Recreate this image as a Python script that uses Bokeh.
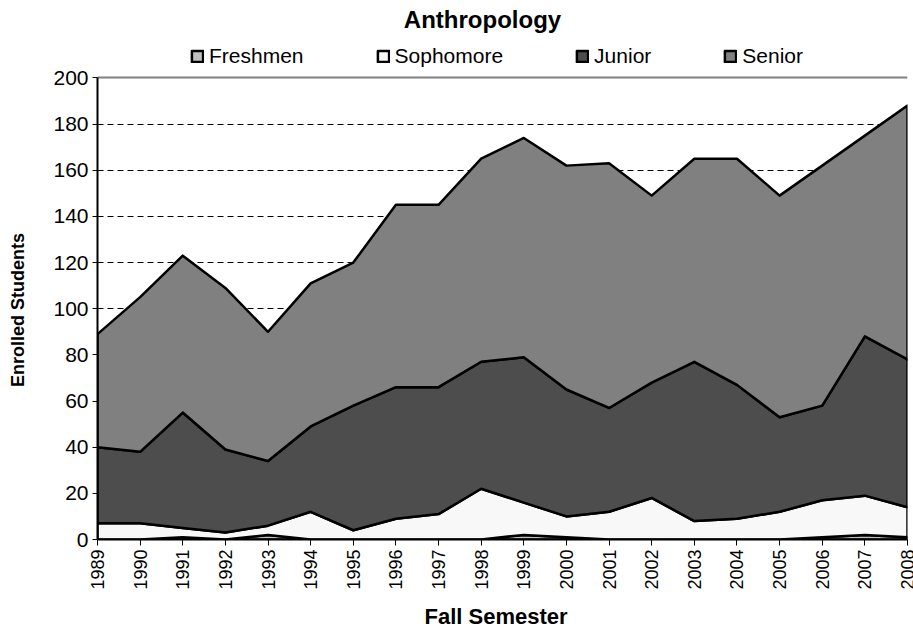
import numpy as np
from bokeh.plotting import figure
from bokeh.models import Range1d, FixedTicker, Legend, LegendItem, Title, Grid, Label
from bokeh.embed import file_html
from bokeh.resources import INLINE

years = list(range(1989, 2009))
freshmen = [0, 0, 1, 0, 2, 0, 0, 0, 0, 0, 2, 1, 0, 0, 0, 0, 0, 1, 2, 1]
sophomore = [7, 7, 4, 3, 4, 12, 4, 9, 11, 22, 14, 9, 12, 18, 8, 9, 12, 16, 17, 13]
junior = [33, 31, 50, 36, 28, 37, 54, 57, 55, 55, 63, 55, 45, 50, 69, 58, 41, 41, 69, 64]
senior = [49, 67, 68, 70, 56, 62, 62, 79, 79, 88, 95, 97, 106, 81, 88, 98, 96, 104, 87, 110]
series_names = ["Freshmen", "Sophomore", "Junior", "Senior"]
series_values = [freshmen, sophomore, junior, senior]
colors = ["#C0C0C0", "#F8F8F8", "#4D4D4D", "#808080"]
y_ticks = list(range(0, 201, 20))

FONT = "Liberation Sans"
W, H = 913, 637

# layout (screen px): plot area 97..907 x 78..543; the frame reaches the top for title + legend
FRAME_TOP, AREA_TOP, AREA_BOTTOM, AREA_LEFT, AREA_RIGHT = 0, 78, 543, 97, 907
y_end = y_ticks[-1] * (AREA_BOTTOM - FRAME_TOP) / (AREA_BOTTOM - AREA_TOP)

p = figure(width=W, height=H, output_backend="svg", toolbar_location=None, title=None,
           x_range=Range1d(years[0], years[-1]), y_range=Range1d(y_ticks[0], y_end),
           min_border_left=AREA_LEFT, min_border_right=W - AREA_RIGHT,
           min_border_top=FRAME_TOP, min_border_bottom=H - AREA_BOTTOM)
p.background_fill_color = "white"
p.border_fill_color = "white"
p.outline_line_color = None

# title (inside the extended frame, above the plot area)
title = Label(x=(years[0] + years[-1]) / 2, y=y_ticks[-1], x_offset=-20, y_offset=AREA_TOP - 20,
              text="Anthropology", text_font=FONT, text_font_size="24px",
              text_font_style="bold", text_color="black",
              text_align="center", text_baseline="middle")
p.add_layout(title)

# grid and plot-area border (top and right, gray)
p.xgrid.visible = False
p.ygrid.ticker = FixedTicker(ticks=y_ticks[1:-1])
p.ygrid.grid_line_color = "black"
p.ygrid.grid_line_dash = "6 4"
p.ygrid.grid_line_width = 1
top_border = Grid(dimension=1, ticker=FixedTicker(ticks=[y_ticks[-1]]),
                  grid_line_color="#808080", grid_line_width=2)
right_border = Grid(dimension=0, ticker=FixedTicker(ticks=[years[-1]]),
                    grid_line_color="#808080", grid_line_width=2,
                    bounds=(y_ticks[0], y_ticks[-1]))
p.add_layout(top_border)
p.add_layout(right_border)

# stacked polygons
bottom = np.zeros(len(years))
renderers = []
for name, vals, col in zip(series_names, series_values, colors):
    top = bottom + np.array(vals, dtype=float)
    xs = list(years) + list(years[::-1])
    ys = list(top) + list(bottom[::-1])
    r = p.patch(xs, ys, fill_color=col, line_color="black", line_width=2.5, line_join="round")
    renderers.append(r)
    bottom = top

# axes
p.yaxis.ticker = FixedTicker(ticks=y_ticks)
p.yaxis.bounds = (y_ticks[0], y_ticks[-1])
p.xaxis.ticker = FixedTicker(ticks=years)
for ax in (p.xaxis[0], p.yaxis[0]):
    ax.axis_line_color = "black"
    ax.axis_line_width = 2
    ax.major_tick_line_color = "black"
    ax.major_tick_line_width = 1
    ax.major_tick_in = 0
    ax.minor_tick_line_color = None
    ax.major_label_text_font = FONT
    ax.major_label_text_color = "black"
p.yaxis.major_tick_out = 5
p.yaxis.major_label_text_font_size = "21px"
p.yaxis.major_label_standoff = 4
# the axis title is centred on the whole (extended) frame; trailing no-break spaces
# move the visible words down to the middle of the 0..200 plot area
p.yaxis.axis_label = "Enrolled Students" + "\u00a0" * 16
p.yaxis.axis_label_text_font = FONT
p.yaxis.axis_label_text_font_size = "18px"
p.yaxis.axis_label_text_font_style = "bold"
p.yaxis.axis_label_text_color = "black"
p.yaxis.axis_label_standoff = 22

p.xaxis.major_tick_out = 6
p.xaxis.major_label_orientation = np.pi / 2
p.xaxis.major_label_text_font_size = "18px"
p.xaxis.major_label_standoff = 4

xlabel = Title(text="Fall Semester", align="left", offset=327, standoff=18,
               text_font=FONT, text_font_size="22px", text_font_style="bold",
               text_color="black")
p.add_layout(xlabel, "below")

# legend row above the plot area
legend = Legend(items=[LegendItem(label=n, renderers=[r]) for n, r in zip(series_names, renderers)],
                location=(93, AREA_BOTTOM - 72), orientation="horizontal",
                padding=0, margin=0, spacing=72,
                glyph_width=14, glyph_height=14, label_standoff=5,
                border_line_color=None, background_fill_alpha=0,
                label_text_font=FONT, label_text_font_size="21px", label_text_color="black",
                label_height=21)
p.add_layout(legend, "center")

open("out.html", "w").write(file_html(p, INLINE))
